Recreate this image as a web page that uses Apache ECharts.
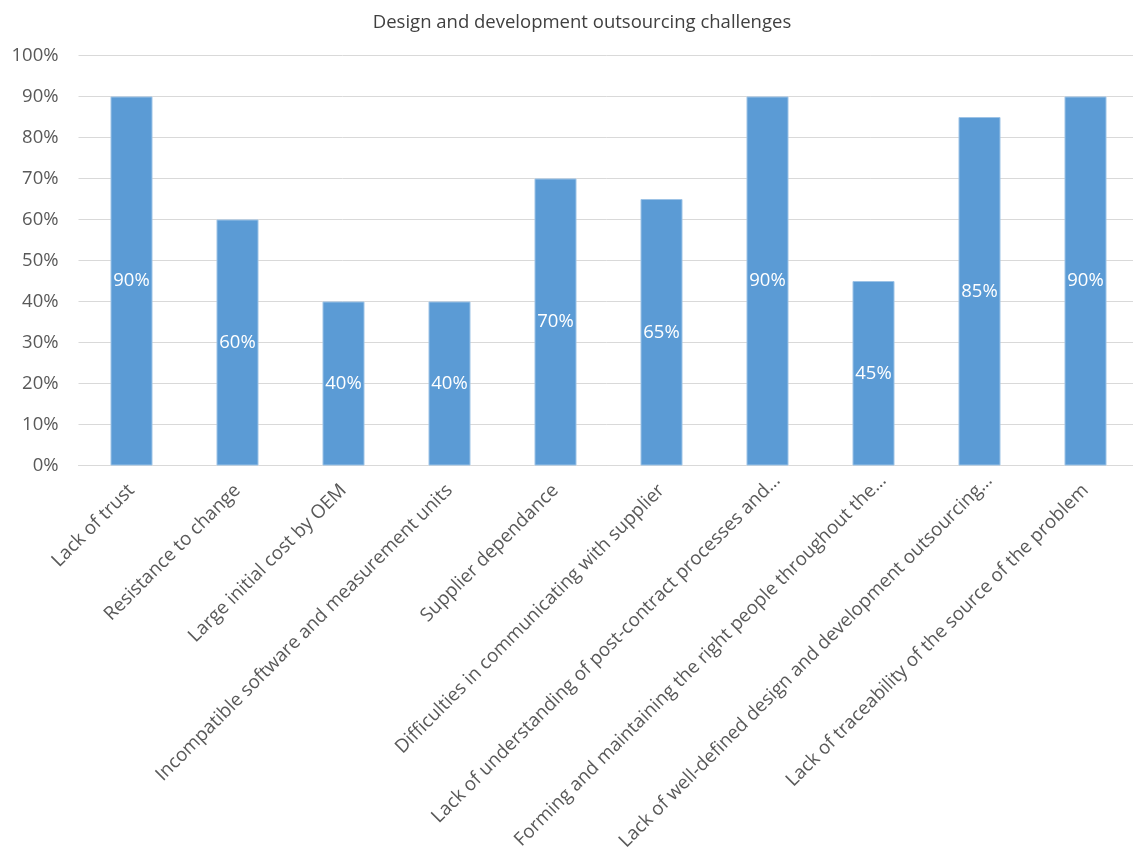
<!DOCTYPE html>
<html>
<head>
<meta charset="utf-8">
<script src="https://cdn.jsdelivr.net/npm/echarts@6/dist/echarts.min.js"></script>
<style>html,body{margin:0;padding:0;background:#fff;overflow:hidden;}#c{width:1133px;height:852px;}</style>
</head>
<body>
<div id="c"></div>
<script>
const titleText = 'Design and development outsourcing challenges';
const categories = [
  'Lack of trust',
  'Resistance to change',
  'Large initial cost by OEM',
  'Incompatible software and measurement units',
  'Supplier dependance',
  'Difficulties in communicating with supplier',
  'Lack of understanding of post-contract processes and…',
  'Forming and maintaining the right people throughout the…',
  'Lack of well-defined design and development outsourcing…',
  'Lack of traceability of the source of the problem'
];
const values = [90, 60, 40, 40, 70, 65, 90, 45, 85, 90];
const yTicks = { min: 0, max: 100, interval: 10 };

const font = 'Open Sans';
// truncated labels sit a little further along their baseline in the reference
const axisData = categories.map(c => c.endsWith('…')
  ? { value: c, textStyle: { padding: [0, -14, 0, 0] } }
  : c);

const chart = echarts.init(document.getElementById('c'));
chart.setOption({
  animation: false,
  title: {
    text: titleText, left: 577, textAlign: 'center', top: 8,
    textStyle: { fontFamily: font, fontSize: 18.5, fontWeight: 'normal', color: '#404040' }
  },
  grid: { left: 78.5, width: 1060, top: 55.5, height: 410, containLabel: false, outerBoundsMode: 'none' },
  xAxis: {
    type: 'category', data: axisData,
    axisLine: { lineStyle: { color: '#D9D9D9', width: 1 } },
    axisTick: { show: false },
    axisLabel: { interval: 0, rotate: 45, margin: 22, fontFamily: font, fontSize: 18.8, color: '#595959' }
  },
  yAxis: {
    type: 'value', min: yTicks.min, max: yTicks.max, interval: yTicks.interval,
    axisLine: { show: false }, axisTick: { show: false },
    axisLabel: { formatter: '{value}%', margin: 20, fontFamily: font, fontSize: 18.5, color: '#595959' },
    splitLine: { lineStyle: { color: '#D9D9D9', width: 1 } }
  },
  series: [{
    type: 'bar', data: values, barWidth: 42,
    itemStyle: { color: '#5B9BD5', borderColor: '#9DC3E6', borderWidth: 1 },
    label: { show: true, position: 'inside', formatter: '{c}%', fontFamily: font, fontSize: 18.5, color: '#fff' }
  }]
});
</script>
</body>
</html>
